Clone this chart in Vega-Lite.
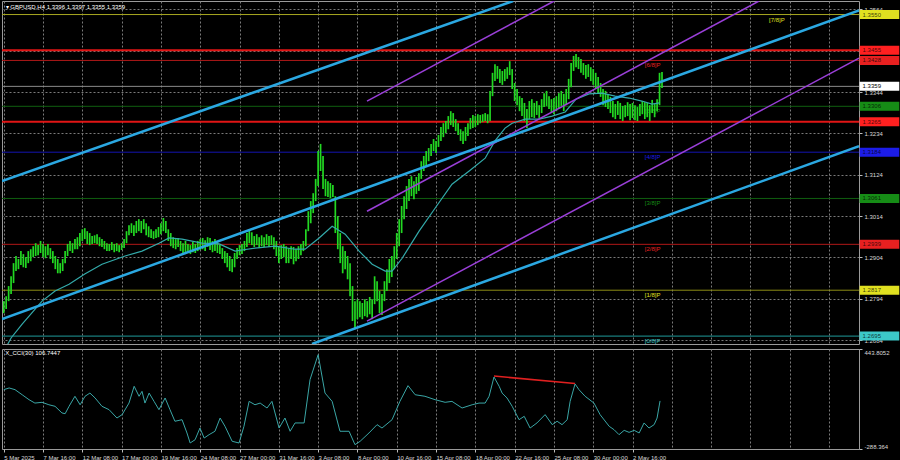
{
  "$schema": "https://vega.github.io/schema/vega-lite/v6.json",
  "background": "#000000",
  "padding": 0,
  "spacing": 3,
  "config": {
    "view": {"stroke": "#9a9a9a", "strokeWidth": 1},
    "axis": {"labelFont": "Liberation Sans", "labelFontSize": 6, "labelColor": "#d8d8d8", "gridColor": "#7a7a7a", "gridDash": [2, 2], "gridWidth": 1, "domain": false, "tickColor": "#bbbbbb", "tickSize": 3, "titleFontSize": 1, "titlePadding": 0, "titleOpacity": 0, "zindex": 0},
    "scale": {"continuousPadding": 0},
    "text": {"font": "Liberation Sans", "fontSize": 6}
  },
  "datasets": {
    "candles": [
      {"i":0,"h":1.2788,"l":1.2756},{"i":1,"h":1.2801,"l":1.2767},{"i":2,"h":1.2828,"l":1.2788},{"i":3,"h":1.2854,"l":1.2807},{"i":4,"h":1.2889,"l":1.2836},
      {"i":5,"h":1.2908,"l":1.2868},{"i":6,"h":1.2900,"l":1.2873},{"i":7,"h":1.2921,"l":1.2884},{"i":8,"h":1.2913,"l":1.2878},{"i":9,"h":1.2905,"l":1.2876},
      {"i":10,"h":1.2921,"l":1.2889},{"i":11,"h":1.2926,"l":1.2894},{"i":12,"h":1.2934,"l":1.2905},{"i":13,"h":1.2942,"l":1.2908},{"i":14,"h":1.2937,"l":1.2910},
      {"i":15,"h":1.2948,"l":1.2916},{"i":16,"h":1.2940,"l":1.2905},{"i":17,"h":1.2934,"l":1.2902},{"i":18,"h":1.2940,"l":1.2910},{"i":19,"h":1.2929,"l":1.2900},
      {"i":20,"h":1.2921,"l":1.2889},{"i":21,"h":1.2908,"l":1.2873},{"i":22,"h":1.2900,"l":1.2862},{"i":23,"h":1.2889,"l":1.2862},{"i":24,"h":1.2900,"l":1.2868},
      {"i":25,"h":1.2921,"l":1.2889},{"i":26,"h":1.2940,"l":1.2908},{"i":27,"h":1.2948,"l":1.2921},{"i":28,"h":1.2942,"l":1.2916},{"i":29,"h":1.2953,"l":1.2926},
      {"i":30,"h":1.2958,"l":1.2926},{"i":31,"h":1.2969,"l":1.2934},{"i":32,"h":1.2979,"l":1.2948},{"i":33,"h":1.2982,"l":1.2953},{"i":34,"h":1.2974,"l":1.2940},
      {"i":35,"h":1.2969,"l":1.2937},{"i":36,"h":1.2961,"l":1.2940},{"i":37,"h":1.2963,"l":1.2942},{"i":38,"h":1.2966,"l":1.2940},{"i":39,"h":1.2958,"l":1.2934},
      {"i":40,"h":1.2953,"l":1.2932},{"i":41,"h":1.2948,"l":1.2926},{"i":42,"h":1.2942,"l":1.2921},{"i":43,"h":1.2940,"l":1.2921},{"i":44,"h":1.2945,"l":1.2924},
      {"i":45,"h":1.2940,"l":1.2918},{"i":46,"h":1.2942,"l":1.2921},{"i":47,"h":1.2937,"l":1.2918},{"i":48,"h":1.2942,"l":1.2924},{"i":49,"h":1.2953,"l":1.2929},
      {"i":50,"h":1.2974,"l":1.2942},{"i":51,"h":1.2990,"l":1.2963},{"i":52,"h":1.2995,"l":1.2969},{"i":53,"h":1.2990,"l":1.2961},{"i":54,"h":1.3001,"l":1.2969},
      {"i":55,"h":1.3006,"l":1.2974},{"i":56,"h":1.3001,"l":1.2969},{"i":57,"h":1.3006,"l":1.2979},{"i":58,"h":1.2995,"l":1.2963},{"i":59,"h":1.2987,"l":1.2958},
      {"i":60,"h":1.2979,"l":1.2956},{"i":61,"h":1.2974,"l":1.2953},{"i":62,"h":1.2979,"l":1.2956},{"i":63,"h":1.2985,"l":1.2958},{"i":64,"h":1.2995,"l":1.2966},
      {"i":65,"h":1.3009,"l":1.2974},{"i":66,"h":1.3001,"l":1.2969},{"i":67,"h":1.2979,"l":1.2948},{"i":68,"h":1.2969,"l":1.2934},{"i":69,"h":1.2958,"l":1.2929},
      {"i":70,"h":1.2953,"l":1.2926},{"i":71,"h":1.2956,"l":1.2932},{"i":72,"h":1.2948,"l":1.2921},{"i":73,"h":1.2942,"l":1.2916},{"i":74,"h":1.2948,"l":1.2913},
      {"i":75,"h":1.2940,"l":1.2916},{"i":76,"h":1.2937,"l":1.2913},{"i":77,"h":1.2945,"l":1.2918},{"i":78,"h":1.2940,"l":1.2916},{"i":79,"h":1.2948,"l":1.2921},
      {"i":80,"h":1.2953,"l":1.2924},{"i":81,"h":1.2956,"l":1.2926},{"i":82,"h":1.2950,"l":1.2921},{"i":83,"h":1.2958,"l":1.2932},{"i":84,"h":1.2956,"l":1.2924},
      {"i":85,"h":1.2948,"l":1.2918},{"i":86,"h":1.2953,"l":1.2921},{"i":87,"h":1.2948,"l":1.2916},{"i":88,"h":1.2937,"l":1.2913},{"i":89,"h":1.2929,"l":1.2900},
      {"i":90,"h":1.2921,"l":1.2889},{"i":91,"h":1.2916,"l":1.2878},{"i":92,"h":1.2908,"l":1.2868},{"i":93,"h":1.2900,"l":1.2865},{"i":94,"h":1.2916,"l":1.2878},
      {"i":95,"h":1.2929,"l":1.2900},{"i":96,"h":1.2937,"l":1.2910},{"i":97,"h":1.2940,"l":1.2913},{"i":98,"h":1.2948,"l":1.2921},{"i":99,"h":1.2969,"l":1.2932},
      {"i":100,"h":1.2979,"l":1.2942},{"i":101,"h":1.2971,"l":1.2937},{"i":102,"h":1.2961,"l":1.2932},{"i":103,"h":1.2966,"l":1.2937},{"i":104,"h":1.2958,"l":1.2929},
      {"i":105,"h":1.2963,"l":1.2934},{"i":106,"h":1.2958,"l":1.2932},{"i":107,"h":1.2966,"l":1.2937},{"i":108,"h":1.2961,"l":1.2932},{"i":109,"h":1.2963,"l":1.2937},
      {"i":110,"h":1.2958,"l":1.2926},{"i":111,"h":1.2948,"l":1.2908},{"i":112,"h":1.2934,"l":1.2889},{"i":113,"h":1.2937,"l":1.2900},{"i":114,"h":1.2940,"l":1.2905},
      {"i":115,"h":1.2934,"l":1.2889},{"i":116,"h":1.2929,"l":1.2889},{"i":117,"h":1.2934,"l":1.2900},{"i":118,"h":1.2932,"l":1.2886},{"i":119,"h":1.2926,"l":1.2894},
      {"i":120,"h":1.2934,"l":1.2900},{"i":121,"h":1.2940,"l":1.2910},{"i":122,"h":1.2948,"l":1.2921},{"i":123,"h":1.2979,"l":1.2934},{"i":124,"h":1.3027,"l":1.2974},
      {"i":125,"h":1.3054,"l":1.2995},{"i":126,"h":1.3075,"l":1.3022},{"i":127,"h":1.3113,"l":1.3054},{"i":128,"h":1.3187,"l":1.3094},{"i":129,"h":1.3206,"l":1.3134},
      {"i":130,"h":1.3174,"l":1.3086},{"i":131,"h":1.3113,"l":1.3067},{"i":132,"h":1.3107,"l":1.3065},{"i":133,"h":1.3102,"l":1.3062},{"i":134,"h":1.3097,"l":1.3065},
      {"i":135,"h":1.3067,"l":1.2969},{"i":136,"h":1.3014,"l":1.2926},{"i":137,"h":1.2969,"l":1.2889},{"i":138,"h":1.2934,"l":1.2862},{"i":139,"h":1.2921,"l":1.2873},
      {"i":140,"h":1.2908,"l":1.2846},{"i":141,"h":1.2889,"l":1.2801},{"i":142,"h":1.2828,"l":1.2735},{"i":143,"h":1.2788,"l":1.2713},{"i":144,"h":1.2793,"l":1.2740},
      {"i":145,"h":1.2788,"l":1.2745},{"i":146,"h":1.2783,"l":1.2740},{"i":147,"h":1.2793,"l":1.2748},{"i":148,"h":1.2788,"l":1.2745},{"i":149,"h":1.2799,"l":1.2753},
      {"i":150,"h":1.2793,"l":1.2740},{"i":151,"h":1.2854,"l":1.2780},{"i":152,"h":1.2841,"l":1.2788},{"i":153,"h":1.2815,"l":1.2756},{"i":154,"h":1.2807,"l":1.2751},
      {"i":155,"h":1.2841,"l":1.2788},{"i":156,"h":1.2873,"l":1.2815},{"i":157,"h":1.2900,"l":1.2836},{"i":158,"h":1.2908,"l":1.2852},{"i":159,"h":1.2934,"l":1.2873},
      {"i":160,"h":1.2969,"l":1.2900},{"i":161,"h":1.3006,"l":1.2934},{"i":162,"h":1.3041,"l":1.2969},{"i":163,"h":1.3067,"l":1.3006},{"i":164,"h":1.3094,"l":1.3033},
      {"i":165,"h":1.3113,"l":1.3054},{"i":166,"h":1.3120,"l":1.3067},{"i":167,"h":1.3107,"l":1.3059},{"i":168,"h":1.3118,"l":1.3073},{"i":169,"h":1.3128,"l":1.3081},
      {"i":170,"h":1.3160,"l":1.3113},{"i":171,"h":1.3174,"l":1.3134},{"i":172,"h":1.3187,"l":1.3147},{"i":173,"h":1.3195,"l":1.3160},{"i":174,"h":1.3206,"l":1.3174},
      {"i":175,"h":1.3219,"l":1.3187},{"i":176,"h":1.3214,"l":1.3182},{"i":177,"h":1.3230,"l":1.3198},{"i":178,"h":1.3251,"l":1.3214},{"i":179,"h":1.3261,"l":1.3224},
      {"i":180,"h":1.3267,"l":1.3235},{"i":181,"h":1.3280,"l":1.3245},{"i":182,"h":1.3293,"l":1.3256},{"i":183,"h":1.3288,"l":1.3251},{"i":184,"h":1.3272,"l":1.3240},
      {"i":185,"h":1.3261,"l":1.3230},{"i":186,"h":1.3245,"l":1.3214},{"i":187,"h":1.3240,"l":1.3206},{"i":188,"h":1.3251,"l":1.3214},{"i":189,"h":1.3261,"l":1.3227},
      {"i":190,"h":1.3275,"l":1.3245},{"i":191,"h":1.3283,"l":1.3248},{"i":192,"h":1.3280,"l":1.3251},{"i":193,"h":1.3285,"l":1.3256},{"i":194,"h":1.3283,"l":1.3261},
      {"i":195,"h":1.3285,"l":1.3264},{"i":196,"h":1.3288,"l":1.3267},{"i":197,"h":1.3285,"l":1.3261},{"i":198,"h":1.3347,"l":1.3267},{"i":199,"h":1.3395,"l":1.3333},
      {"i":200,"h":1.3418,"l":1.3373},{"i":201,"h":1.3413,"l":1.3379},{"i":202,"h":1.3405,"l":1.3368},{"i":203,"h":1.3400,"l":1.3363},{"i":204,"h":1.3405,"l":1.3373},
      {"i":205,"h":1.3410,"l":1.3379},{"i":206,"h":1.3426,"l":1.3389},{"i":207,"h":1.3405,"l":1.3352},{"i":208,"h":1.3368,"l":1.3320},{"i":209,"h":1.3352,"l":1.3309},
      {"i":210,"h":1.3333,"l":1.3293},{"i":211,"h":1.3328,"l":1.3280},{"i":212,"h":1.3315,"l":1.3267},{"i":213,"h":1.3299,"l":1.3248},{"i":214,"h":1.3320,"l":1.3272},
      {"i":215,"h":1.3325,"l":1.3277},{"i":216,"h":1.3315,"l":1.3275},{"i":217,"h":1.3320,"l":1.3283},{"i":218,"h":1.3309,"l":1.3275},{"i":219,"h":1.3325,"l":1.3288},
      {"i":220,"h":1.3341,"l":1.3304},{"i":221,"h":1.3347,"l":1.3307},{"i":222,"h":1.3333,"l":1.3299},{"i":223,"h":1.3325,"l":1.3288},{"i":224,"h":1.3328,"l":1.3285},
      {"i":225,"h":1.3333,"l":1.3293},{"i":226,"h":1.3341,"l":1.3299},{"i":227,"h":1.3347,"l":1.3307},{"i":228,"h":1.3339,"l":1.3293},{"i":229,"h":1.3352,"l":1.3309},
      {"i":230,"h":1.3379,"l":1.3325},{"i":231,"h":1.3421,"l":1.3357},{"i":232,"h":1.3440,"l":1.3400},{"i":233,"h":1.3445,"l":1.3410},{"i":234,"h":1.3437,"l":1.3405},
      {"i":235,"h":1.3432,"l":1.3395},{"i":236,"h":1.3421,"l":1.3389},{"i":237,"h":1.3416,"l":1.3379},{"i":238,"h":1.3418,"l":1.3384},{"i":239,"h":1.3410,"l":1.3373},
      {"i":240,"h":1.3405,"l":1.3363},{"i":241,"h":1.3395,"l":1.3352},{"i":242,"h":1.3384,"l":1.3341},{"i":243,"h":1.3368,"l":1.3331},{"i":244,"h":1.3352,"l":1.3309},
      {"i":245,"h":1.3347,"l":1.3304},{"i":246,"h":1.3336,"l":1.3299},{"i":247,"h":1.3331,"l":1.3288},{"i":248,"h":1.3320,"l":1.3277},{"i":249,"h":1.3312,"l":1.3272},
      {"i":250,"h":1.3320,"l":1.3283},{"i":251,"h":1.3315,"l":1.3272},{"i":252,"h":1.3307,"l":1.3267},{"i":253,"h":1.3309,"l":1.3277},{"i":254,"h":1.3317,"l":1.3280},
      {"i":255,"h":1.3312,"l":1.3269},{"i":256,"h":1.3315,"l":1.3275},{"i":257,"h":1.3309,"l":1.3269},{"i":258,"h":1.3304,"l":1.3267},{"i":259,"h":1.3312,"l":1.3280},
      {"i":260,"h":1.3320,"l":1.3285},{"i":261,"h":1.3317,"l":1.3272},{"i":262,"h":1.3315,"l":1.3277},{"i":263,"h":1.3309,"l":1.3267},{"i":264,"h":1.3323,"l":1.3288},
      {"i":265,"h":1.3312,"l":1.3277},{"i":266,"h":1.3325,"l":1.3293},{"i":267,"h":1.3395,"l":1.3309},{"i":268,"h":1.3397,"l":1.3355}
    ],
    "ma": [
      {"i":1.5,"p":1.2672},{"i":3,"p":1.2690},{"i":7.5,"p":1.2727},{"i":15.6,"p":1.2788},{"i":20.9,"p":1.2815},{"i":26.6,"p":1.2833},{"i":33,"p":1.2860},{"i":40,"p":1.2886},
      {"i":49.4,"p":1.2908},{"i":56.3,"p":1.2921},{"i":63.2,"p":1.2942},{"i":67.3,"p":1.2956},{"i":72.6,"p":1.2953},{"i":80.7,"p":1.2942},{"i":87.7,"p":1.2940},
      {"i":94.2,"p":1.2921},{"i":97,"p":1.2924},{"i":102.3,"p":1.2929},{"i":110.5,"p":1.2934},{"i":118.6,"p":1.2926},{"i":122.7,"p":1.2926},{"i":128.4,"p":1.2956},
      {"i":133.7,"p":1.2987},{"i":139,"p":1.2966},{"i":144.7,"p":1.2921},{"i":150,"p":1.2886},{"i":155.3,"p":1.2868},{"i":158.1,"p":1.2868},{"i":162.2,"p":1.2902},
      {"i":169.1,"p":1.2974},{"i":175.6,"p":1.3035},{"i":182.5,"p":1.3099},{"i":189.5,"p":1.3134},{"i":196,"p":1.3168},{"i":200,"p":1.3214},{"i":204.1,"p":1.3248},
      {"i":207,"p":1.3261},{"i":212.3,"p":1.3272},{"i":218,"p":1.3272},{"i":223.3,"p":1.3280},{"i":228.6,"p":1.3291},{"i":233,"p":1.3325},{"i":238.3,"p":1.3339},
      {"i":243.6,"p":1.3341},{"i":248.9,"p":1.3333},{"i":254.6,"p":1.3328},{"i":259.8,"p":1.3320},{"i":263.9,"p":1.3312},{"i":267,"p":1.3315}
    ],
    "blue": [
      {"g":"b1","i":-0.7,"p":1.3107},{"g":"b1","i":207.4,"p":1.3586},
      {"g":"b2","i":-0.7,"p":1.2740},{"g":"b2","i":348.2,"p":1.3561},
      {"g":"b3","i":125.5,"p":1.2674},{"g":"b3","i":348.2,"p":1.3200}
    ],
    "purple": [
      {"g":"p1","i":147.9,"p":1.3320},{"g":"p1","i":224.1,"p":1.3586},
      {"g":"p2","i":147.9,"p":1.3027},{"g":"p2","i":307.5,"p":1.3586},
      {"g":"p3","i":147.9,"p":1.2735},{"g":"p3","i":348.2,"p":1.3434}
    ],
    "murrey": [
      {"p":1.2695,"m":"[0/8]P"},{"p":1.2817,"m":"[1/8]P"},{"p":1.2939,"m":"[2/8]P"},{"p":1.3061,"m":"[3/8]P"},
      {"p":1.3184,"m":"[4/8]P"},{"p":1.3306,"m":"[5/8]P"},{"p":1.3428,"m":"[6/8]P"},{"p":1.3550,"m":"[7/8]P"}
    ],
    "sr": [{"p":1.3455},{"p":1.3265}],
    "bid": [{"p":1.3359}],
    "cci": [
      {"i":0,"v":180},{"i":2.2,"v":191},{"i":4.6,"v":180},{"i":7.5,"v":147},{"i":10.3,"v":115},{"i":12.7,"v":93},{"i":15.6,"v":98},{"i":18.4,"v":82},
      {"i":20.9,"v":72},{"i":23.7,"v":29},{"i":25,"v":24},{"i":26.6,"v":72},{"i":29,"v":137},{"i":31.1,"v":82},{"i":33.1,"v":137},{"i":35.1,"v":158},
      {"i":37.2,"v":126},{"i":40,"v":72},{"i":42.9,"v":50},{"i":46.1,"v":-4},{"i":48.2,"v":18},{"i":51,"v":93},{"i":53.1,"v":202},{"i":55.1,"v":137},
      {"i":56.3,"v":169},{"i":57.5,"v":93},{"i":59.2,"v":158},{"i":61.2,"v":104},{"i":63.2,"v":50},{"i":65.7,"v":126},{"i":67.7,"v":50},{"i":69.7,"v":-25},
      {"i":72.6,"v":-15},{"i":74.6,"v":-101},{"i":75.9,"v":-166},{"i":77.9,"v":-145},{"i":79.9,"v":-69},{"i":81.6,"v":-134},{"i":83.6,"v":-112},{"i":86,"v":-90},
      {"i":88.1,"v":-4},{"i":90.1,"v":-58},{"i":93,"v":-155},{"i":95.8,"v":-166},{"i":97.8,"v":-58},{"i":99.9,"v":104},{"i":102.3,"v":82},{"i":104.4,"v":93},
      {"i":107.2,"v":61},{"i":109.2,"v":104},{"i":112.1,"v":-69},{"i":114.5,"v":-4},{"i":116.6,"v":-90},{"i":118.6,"v":-36},{"i":122.3,"v":-36},{"i":124.7,"v":245},
      {"i":128,"v":407},{"i":130.8,"v":158},{"i":133.7,"v":104},{"i":136.9,"v":-90},{"i":140.6,"v":-90},{"i":143,"v":-177},{"i":145.1,"v":-155},{"i":148.7,"v":-101},
      {"i":152,"v":-47},{"i":154,"v":-69},{"i":158.1,"v":-15},{"i":161.3,"v":104},{"i":164.6,"v":206},{"i":167.5,"v":147},{"i":171.5,"v":137},{"i":175.6,"v":115},
      {"i":179.7,"v":98},{"i":182.5,"v":104},{"i":186.6,"v":61},{"i":190.7,"v":82},{"i":193.5,"v":93},{"i":196,"v":93},{"i":197.6,"v":137},{"i":199.6,"v":262},
      {"i":201.7,"v":202},{"i":202.9,"v":158},{"i":204.9,"v":126},{"i":207,"v":72},{"i":209.8,"v":-15},{"i":211.9,"v":7},{"i":214.3,"v":-69},{"i":217.1,"v":-36},
      {"i":220.4,"v":18},{"i":223.3,"v":-47},{"i":225.3,"v":-25},{"i":227.3,"v":-47},{"i":229.4,"v":-15},{"i":230.6,"v":104},{"i":232.6,"v":217},{"i":234.2,"v":180},
      {"i":236.7,"v":137},{"i":240.3,"v":93},{"i":242.8,"v":18},{"i":246.5,"v":-58},{"i":248.5,"v":-80},{"i":250.5,"v":-112},{"i":252.6,"v":-84},{"i":254.6,"v":-97},
      {"i":256.7,"v":-84},{"i":258.7,"v":-101},{"i":260.7,"v":-36},{"i":262.7,"v":-69},{"i":264.8,"v":-47},{"i":266,"v":-4},{"i":267.2,"v":107}
    ],
    "div": [{"i":199.6,"v":268},{"i":232.6,"v":220}]
  },
  "vconcat": [
    {
      "width": 857,
      "height": 343,
      "layer": [
        {
          "data": {"name": "murrey"},
          "mark": {"type": "rule", "strokeWidth": 1},
          "encoding": {
            "y": {"field": "p", "type": "quantitative", "title": null,
              "scale": {"domain": [1.2674, 1.3586], "zero": false, "nice": false, "padding": 0},
              "axis": {"title": null, "orient": "right", "values": [1.3564,1.3509,1.3454,1.3399,1.3344,1.3289,1.3234,1.3179,1.3124,1.3069,1.3014,1.2959,1.2904,1.2849,1.2794,1.2739,1.2684], "format": ".4f", "grid": true, "labelPadding": 2, "labelFlush": false}},
            "stroke": {"field": "m", "type": "nominal", "legend": null,
              "scale": {"domain": ["[0/8]P","[1/8]P","[2/8]P","[3/8]P","[4/8]P","[5/8]P","[6/8]P","[7/8]P"],
                "range": ["#1f9a9a","#8c8c14","#b01818","#0f5f0f","#1414b0","#0f5f0f","#b01818","#a8a820"]}}
          }
        },
        {
          "data": {"name": "sr"},
          "mark": {"type": "rule", "strokeWidth": 2, "stroke": "#e01515"},
          "encoding": {"y": {"field": "p", "type": "quantitative", "title": null}}
        },
        {
          "data": {"name": "bid"},
          "mark": {"type": "rule", "strokeWidth": 1, "stroke": "#8a8a8a"},
          "encoding": {"y": {"field": "p", "type": "quantitative", "title": null}}
        },
        {
          "data": {"name": "murrey"},
          "transform": [{"filter": "datum.m !== '[7/8]P'"}],
          "mark": {"type": "text", "align": "left", "baseline": "top", "dy": 2},
          "encoding": {
            "x": {"datum": 261, "type": "quantitative", "title": null},
            "y": {"field": "p", "type": "quantitative", "title": null},
            "text": {"field": "m"},
            "fill": {"field": "m", "type": "nominal", "legend": null,
              "scale": {"domain": ["[0/8]P","[1/8]P","[2/8]P","[3/8]P","[4/8]P","[5/8]P","[6/8]P","[7/8]P"],
                "range": ["#3cc8c8","#e0e020","#e82020","#168c16","#1c1ce8","#168c16","#e82020","#e0e020"]}}
          }
        },
        {
          "data": {"name": "murrey"},
          "transform": [{"filter": "datum.m === '[7/8]P'"}],
          "mark": {"type": "text", "align": "left", "baseline": "top", "dy": 2},
          "encoding": {
            "x": {"datum": 311.6, "type": "quantitative", "title": null},
            "y": {"field": "p", "type": "quantitative", "title": null},
            "text": {"field": "m"},
            "fill": {"field": "m", "type": "nominal", "legend": null}
          }
        },
        {
          "data": {"name": "candles"},
          "mark": {"type": "rule", "stroke": "#22d822", "strokeWidth": 1.7, "clip": true},
          "encoding": {
            "x": {"field": "i", "type": "quantitative", "title": null,
              "scale": {"domain": [-0.7, 348.2], "zero": false, "nice": false, "padding": 0},
              "axis": {"title": null, "values": [0,8,16,24,32,40,48,56,64,72,80,88,96,104,112,120,128,136,144,152,160,168,176,184,192,200,208,216,224,232,240,248,256,264,272,280,288,296,304,312,320,328,336,344], "labels": false, "ticks": false, "grid": true}},
            "y": {"field": "l", "type": "quantitative", "title": null},
            "y2": {"field": "h"}
          }
        },
        {
          "data": {"name": "ma"},
          "mark": {"type": "line", "stroke": "#33aaaa", "strokeWidth": 1.2, "clip": true},
          "encoding": {"x": {"field": "i", "type": "quantitative", "title": null}, "y": {"field": "p", "type": "quantitative", "title": null}}
        },
        {
          "data": {"name": "purple"},
          "mark": {"type": "line", "stroke": "#9a3fd8", "strokeWidth": 1.5, "clip": true},
          "encoding": {"x": {"field": "i", "type": "quantitative", "title": null}, "y": {"field": "p", "type": "quantitative", "title": null}, "detail": {"field": "g"}}
        },
        {
          "data": {"name": "blue"},
          "mark": {"type": "line", "stroke": "#2ba8e2", "strokeWidth": 2.5, "clip": true},
          "encoding": {"x": {"field": "i", "type": "quantitative", "title": null}, "y": {"field": "p", "type": "quantitative", "title": null}, "detail": {"field": "g"}}
        },
        {
          "data": {"values": [{}]},
          "mark": {"type": "text", "align": "left", "baseline": "middle", "fill": "#ffffff"},
          "encoding": {
            "x": {"datum": 0.8, "type": "quantitative", "title": null},
            "y": {"datum": 1.3570, "type": "quantitative", "title": null},
            "text": {"value": "▾ GBPUSD,H4  1.3396 1.3397 1.3355 1.3359"}
          }
        },
        {
          "data": {"name": "murrey"},
          "mark": {"type": "bar", "size": 9},
          "encoding": {
            "x": {"datum": 348.45, "type": "quantitative", "title": null},
            "x2": {"datum": 364.6},
            "y": {"field": "p", "type": "quantitative", "title": null},
            "fill": {"field": "m", "type": "nominal", "legend": null}
          }
        },
        {
          "data": {"name": "sr"},
          "mark": {"type": "bar", "size": 9, "fill": "#ff2020"},
          "encoding": {
            "x": {"datum": 348.45, "type": "quantitative", "title": null},
            "x2": {"datum": 364.6},
            "y": {"field": "p", "type": "quantitative", "title": null}
          }
        },
        {
          "data": {"name": "bid"},
          "mark": {"type": "bar", "size": 9, "fill": "#ffffff"},
          "encoding": {
            "x": {"datum": 348.45, "type": "quantitative", "title": null},
            "x2": {"datum": 364.6},
            "y": {"field": "p", "type": "quantitative", "title": null}
          }
        },
        {
          "data": {"name": "murrey"},
          "mark": {"type": "text", "align": "left", "baseline": "middle", "dx": 3, "fill": "#000000", "fillOpacity": 0.75},
          "encoding": {
            "x": {"datum": 348.45, "type": "quantitative", "title": null},
            "y": {"field": "p", "type": "quantitative", "title": null},
            "text": {"field": "p", "type": "quantitative", "format": ".4f"}
          }
        },
        {
          "data": {"name": "sr"},
          "mark": {"type": "text", "align": "left", "baseline": "middle", "dx": 3, "fill": "#000000", "fillOpacity": 0.75},
          "encoding": {
            "x": {"datum": 348.45, "type": "quantitative", "title": null},
            "y": {"field": "p", "type": "quantitative", "title": null},
            "text": {"field": "p", "type": "quantitative", "format": ".4f"}
          }
        },
        {
          "data": {"name": "bid"},
          "mark": {"type": "text", "align": "left", "baseline": "middle", "dx": 3, "fill": "#000000"},
          "encoding": {
            "x": {"datum": 348.45, "type": "quantitative", "title": null},
            "y": {"field": "p", "type": "quantitative", "title": null},
            "text": {"field": "p", "type": "quantitative", "format": ".4f"}
          }
        }
      ]
    },
    {
      "width": 857,
      "height": 100,
      "layer": [
        {
          "data": {"name": "cci"},
          "mark": {"type": "line", "stroke": "#3aa6a6", "strokeWidth": 1, "clip": true},
          "encoding": {
            "x": {"field": "i", "type": "quantitative", "title": null,
              "scale": {"domain": [-0.7, 348.2], "zero": false, "nice": false},
              "axis": {"title": null, "values": [0,8,16,24,32,40,48,56,64,72,80,88,96,104,112,120,128,136,144,152,160,168,176,184,192,200,208,216,224,232,240,248,256,264,272,280,288,296,304,312,320,328,336,344],
                "grid": true, "labelAlign": "left", "labelPadding": 2, "labelOverlap": false, "labelFlush": false,
                "labelExpr": "(datum.value % 16 === 0 && datum.value <= 256) ? ['5 Mar 2025','7 Mar 16:00','12 Mar 08:00','17 Mar 00:00','19 Mar 16:00','24 Mar 08:00','27 Mar 00:00','31 Mar 16:00','3 Apr 08:00','8 Apr 00:00','10 Apr 16:00','15 Apr 08:00','18 Apr 00:00','22 Apr 16:00','25 Apr 08:00','30 Apr 00:00','2 May 16:00'][datum.value / 16] : ''",
                "tickOpacity": {"condition": {"test": "datum.value % 16 === 0 && datum.value <= 256", "value": 1}, "value": 0}}},
            "y": {"field": "v", "type": "quantitative", "title": null,
              "scale": {"domain": [-205, 443.8052], "zero": false, "nice": false},
              "axis": {"title": null, "orient": "right", "values": [443.8052, 250, 200, 100, 0, -100, -205], "labelFlush": true, "labelPadding": 2,
                "labelExpr": "datum.value > 400 ? '443.8052' : (datum.value < -200 ? '-288.364' : (datum.value === 0 ? '0.00' : format(datum.value, 'd')))",
                "gridOpacity": {"condition": {"test": "datum.value > 400 || datum.value < -200", "value": 0}, "value": 1}}}
          }
        },
        {
          "data": {"name": "div"},
          "mark": {"type": "line", "stroke": "#e02020", "strokeWidth": 1.5},
          "encoding": {"x": {"field": "i", "type": "quantitative", "title": null}, "y": {"field": "v", "type": "quantitative", "title": null}}
        },
        {
          "data": {"values": [{}]},
          "mark": {"type": "text", "align": "left", "baseline": "middle", "fill": "#ffffff"},
          "encoding": {
            "x": {"datum": 0.6, "type": "quantitative", "title": null},
            "y": {"datum": 418, "type": "quantitative", "title": null},
            "text": {"value": "X_CCI(30) 106.7447"}
          }
        }
      ]
    }
  ]
}
